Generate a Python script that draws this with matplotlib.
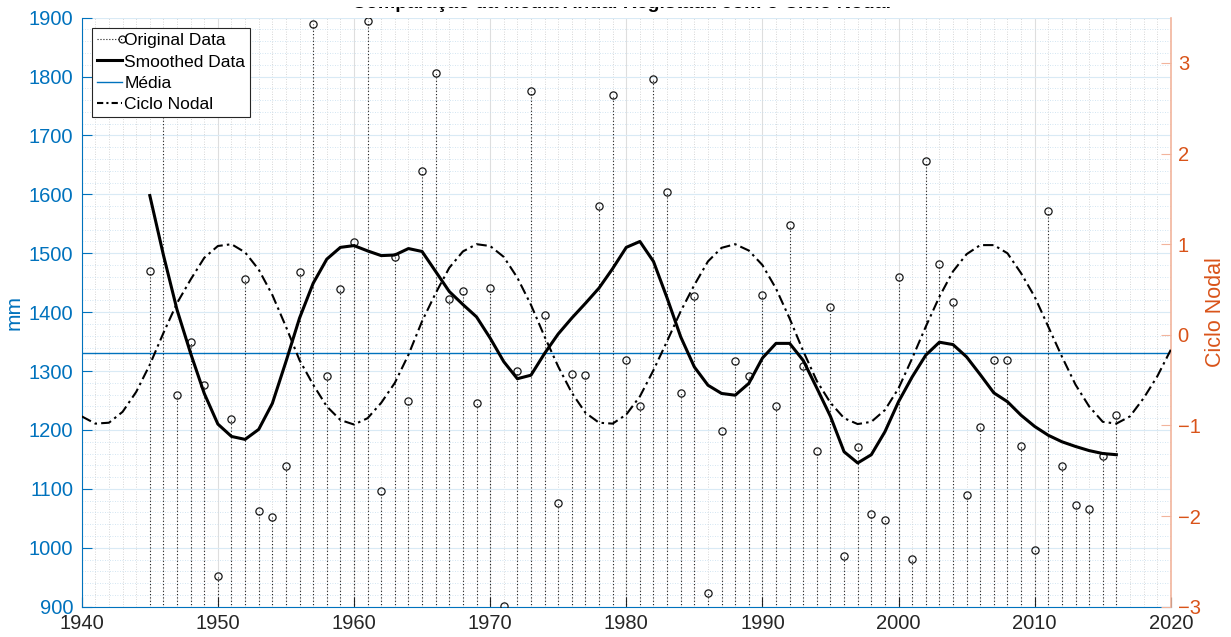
import numpy as np
import matplotlib
matplotlib.use("Agg")
import matplotlib.pyplot as plt
from matplotlib.ticker import MultipleLocator
from matplotlib.lines import Line2D
from matplotlib.legend_handler import HandlerLine2D
from matplotlib.patches import Rectangle

plt.rcParams['font.family'] = ['Liberation Sans', 'DejaVu Sans']

# -------------------- DATA --------------------
years = list(range(1945, 2017))
precip = [1470, 1800, 1259, 1349, 1276, 952, 1218, 1457, 1062, 1053,
          1138, 1468, 1890, 1292, 1439, 1519, 1895, 1097, 1494, 1249,
          1640, 1806, 1423, 1436, 1245, 1441, 902, 1300, 1775, 1395,
          1076, 1295, 1293, 1580, 1769, 1319, 1241, 1795, 1604, 1263,
          1427, 923, 1199, 1317, 1292, 1429, 1241, 1548, 1309, 1164,
          1409, 986, 1171, 1057, 1048, 1459, 981, 1656, 1482, 1417,
          1090, 1205, 1318, 1319, 1173, 996, 1572, 1139, 1073, 1066,
          1155, 1225]
smoothed = [1598, 1497, 1404, 1330, 1262, 1210, 1189, 1184, 1201, 1245,
            1316, 1390, 1449, 1490, 1510, 1513, 1504, 1496, 1497, 1508,
            1503, 1469, 1435, 1413, 1392, 1356, 1316, 1287, 1293, 1330,
            1363, 1390, 1415, 1441, 1474, 1510, 1520, 1486, 1424, 1358,
            1307, 1276, 1262, 1259, 1279, 1322, 1347, 1347, 1318, 1271,
            1223, 1163, 1144, 1158, 1197, 1248, 1290, 1327, 1349, 1345,
            1324, 1294, 1263, 1248, 1225, 1206, 1191, 1180, 1172, 1165,
            1160, 1158]
media = 1330

nodal_years = list(range(1940, 2021))
nodal = [-0.90, -0.98, -0.97, -0.85, -0.63, -0.33, 0.02, 0.35, 0.61, 0.85,
         0.98, 1.00, 0.91, 0.72, 0.44, 0.09, -0.28, -0.55, -0.79, -0.94,
         -0.99, -0.92, -0.75, -0.53, -0.22, 0.15, 0.46, 0.74, 0.92, 1.00,
         0.98, 0.86, 0.63, 0.33, -0.02, -0.35, -0.64, -0.86, -0.97, -0.98,
         -0.88, -0.68, -0.39, -0.07, 0.26, 0.55, 0.81, 0.96, 1.00, 0.93,
         0.77, 0.51, 0.18, -0.18, -0.51, -0.75, -0.92, -0.985, -0.96, -0.83,
         -0.59, -0.26, 0.09, 0.42, 0.70, 0.89, 0.99, 0.99, 0.90, 0.68,
         0.42, 0.09, -0.24, -0.55, -0.79, -0.96, -0.98, -0.90, -0.70, -0.46,
         -0.165]

TITLE = "Comparação da Média Anual Registada com o Ciclo Nodal"

# -------------------- STYLE --------------------
BLUE = "#0072BD"
ORANGE = "#D95319"
ORANGE_LIGHT = "#F2B49C"
DARK = "#262626"
W, H = 1231, 637


class StemHandler(HandlerLine2D):
    """dotted line with the circle at the right end, like matlab stem"""
    def create_artists(self, *args, **kwargs):
        arts = super().create_artists(*args, **kwargs)
        arts[0].set_markevery([2])
        return arts


fig = plt.figure(figsize=(W / 100, H / 100), dpi=100)
ax = fig.add_axes([0.0664, 0.0476, 0.8847, 0.9247])

# stems + circles
ax.vlines(years, 0, precip, colors="#1a1a1a", linestyles=(0, (1, 2)), lw=0.8, zorder=3)
ax.plot(years, precip, ls="none", marker="o", ms=5.2, mfc="none", mec="#1a1a1a", mew=0.9, zorder=4)
ax.plot(years, smoothed, color="black", lw=2.2, zorder=5)
ax.axhline(media, color=BLUE, lw=1.0, zorder=4)

ax.set_xlim(1940, 2020)
ax.set_ylim(900, 1900)
ax.xaxis.set_major_locator(MultipleLocator(10))
ax.xaxis.set_minor_locator(MultipleLocator(1))
ax.yaxis.set_major_locator(MultipleLocator(100))
ax.yaxis.set_minor_locator(MultipleLocator(20))

ax.xaxis.grid(True, which="major", color="#DEDEDE", lw=0.8)
ax.xaxis.grid(True, which="minor", color="#C9C9C9", lw=0.6, ls=(0, (1, 2)))
ax.yaxis.grid(True, which="major", color="#D9EAF5", lw=0.8)
ax.yaxis.grid(True, which="minor", color="#C4DDEE", lw=0.6, ls=(0, (1, 2)))
ax.set_axisbelow(True)

ax.tick_params(axis="x", which="major", direction="in", length=7, width=0.8,
               color=DARK, labelcolor=DARK, labelsize=14.5, pad=5)
ax.tick_params(axis="y", which="major", direction="in", length=7, width=0.8,
               color=BLUE, labelcolor=BLUE, labelsize=14.5, pad=6)
ax.tick_params(which="minor", length=0)
for s in ("top", "right"):
    ax.spines[s].set_visible(False)
ax.spines["left"].set_color(BLUE)
ax.spines["bottom"].set_color(BLUE)
ax.set_ylabel("mm", color=BLUE, fontsize=15)
ax.yaxis.set_label_coords(-0.053, 0.5)

# right axis: nodal cycle
ax2 = ax.twinx()
ax2.plot(nodal_years, nodal, color="black", lw=1.5, ls="-.", dashes=(5, 2, 1.2, 2), zorder=5)
ax2.set_ylim(-3, 3.5)
ax2.yaxis.set_major_locator(MultipleLocator(1))
ax2.tick_params(axis="y", direction="in", length=7, width=0.8, color=ORANGE_LIGHT,
                labelcolor=ORANGE, labelsize=14.5, pad=5)
for s in ("top", "left", "bottom"):
    ax2.spines[s].set_visible(False)
ax2.spines["right"].set_color(ORANGE_LIGHT)
ax2.spines["right"].set_linewidth(1.2)
ax2.set_ylabel("Ciclo Nodal", color=ORANGE, fontsize=15.5)
ax2.yaxis.set_label_coords(1.031, 0.5)

# legend
h_orig = Line2D([], [], color="#1a1a1a", ls=":", lw=0.8, marker="o", ms=5, mfc="none", mew=0.9)
h_smooth = Line2D([], [], color="black", lw=2.2)
h_media = Line2D([], [], color=BLUE, lw=1.0)
h_nodal = Line2D([], [], color="black", lw=1.5, ls="-.", dashes=(3, 1.5, 1, 1.5))
leg = ax2.legend([h_orig, h_smooth, h_media, h_nodal],
                 ["Original Data", "Smoothed Data", "Média", "Ciclo Nodal"],
                 loc="upper left", bbox_to_anchor=(0.0095, 0.9825), borderaxespad=0,
                 fontsize=12.5, fancybox=False, framealpha=1, edgecolor=DARK,
                 handlelength=1.4, handletextpad=0.15, labelspacing=0.35,
                 borderpad=0.3, handler_map={h_orig: StemHandler(numpoints=1)})
leg.get_frame().set_linewidth(0.8)
leg.set_zorder(10)

# title: in the original export only its lowest pixels survive the crop,
# so a white band hides everything above them
fig.text(0.505, 1 - 8 / H, TITLE, ha="center", va="baseline",
         fontsize=14, fontweight="bold", zorder=3)
fig.patches.append(Rectangle((0, 1 - 7 / H), 1, 7 / H, transform=fig.transFigure,
                             facecolor="white", edgecolor="none", zorder=4))

fig.savefig("out.png", dpi=100)
